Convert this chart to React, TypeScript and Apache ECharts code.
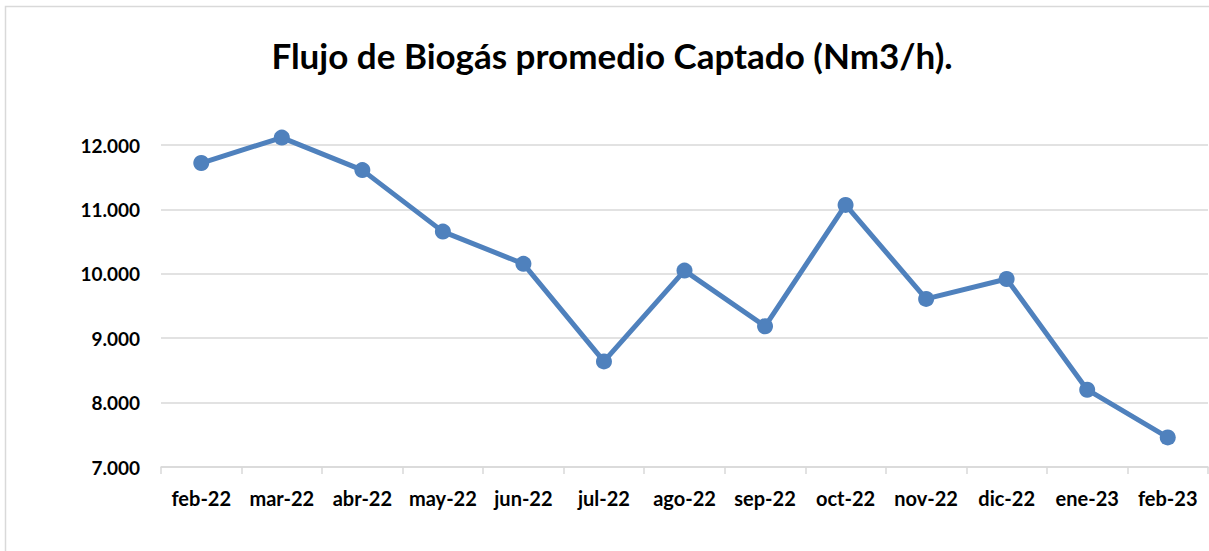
import React, { useEffect, useRef } from "react";
import * as echarts from "echarts";

const categories = [
  "feb-22", "mar-22", "abr-22", "may-22", "jun-22", "jul-22", "ago-22",
  "sep-22", "oct-22", "nov-22", "dic-22", "ene-23", "feb-23",
];
const flujo = [
  11720, 12115, 11610, 10655, 10155, 8640, 10050,
  9185, 11070, 9610, 9920, 8200, 7460,
];
const yMin = 7000;
const yMax = 12000;
const yStep = 1000;
const titleText = "Flujo de Biogás promedio Captado (Nm3/h).";

function fmtThousands(v: number): string {
  return Math.round(v).toString().replace(/\B(?=(\d{3})+(?!\d))/g, ".");
}

export default function App() {
  const ref = useRef<HTMLDivElement>(null);
  useEffect(() => {
    document.body.style.margin = "0";
    const chart = echarts.init(ref.current!, null, { renderer: "svg" });
    chart.setOption({
      animation: false,
      backgroundColor: "#ffffff",
      textStyle: { fontFamily: "Lato" },
      graphic: [
        {
          type: "rect",
          shape: { x: 5.5, y: 6.5, width: 1300, height: 700 },
          style: { fill: "none", stroke: "#d9d9d9", lineWidth: 1.5 },
          silent: true,
        },
      ],
      title: {
        text: titleText,
        left: 607,
        top: 32,
        textAlign: "center",
        textStyle: {
          fontFamily: "Lato",
          fontWeight: "bold",
          fontSize: 35,
          color: "#000000",
        },
      },
      grid: { left: 161, right: 1, top: 145, bottom: 84, containLabel: false },
      xAxis: {
        type: "category",
        data: categories,
        boundaryGap: true,
        axisLine: { show: true, lineStyle: { color: "#d9d9d9", width: 1.5 } },
        axisTick: { show: true, length: 7, lineStyle: { color: "#d9d9d9", width: 1.5 } },
        axisLabel: {
          interval: 0,
          margin: 21,
          color: "#000000",
          fontFamily: "Lato",
          fontWeight: "bold",
          fontSize: 20,
        },
      },
      yAxis: {
        type: "value",
        min: yMin,
        max: yMax,
        interval: yStep,
        axisLine: { show: false },
        axisTick: { show: false },
        splitLine: { lineStyle: { color: "#d9d9d9", width: 1.5 } },
        axisLabel: {
          margin: 21,
          color: "#000000",
          fontFamily: "Lato",
          fontWeight: "bold",
          fontSize: 19,
          formatter: (v: number) => fmtThousands(v),
        },
      },
      series: [
        {
          type: "line",
          data: flujo,
          clip: false,
          symbol: "circle",
          symbolSize: 16,
          itemStyle: { color: "#4f81bd" },
          lineStyle: { color: "#4f81bd", width: 5 },
        },
      ],
    });
    return () => chart.dispose();
  }, []);
  return (
    <div
      ref={ref}
      style={{ position: "fixed", left: 0, top: 0, width: 1209, height: 551 }}
    />
  );
}
